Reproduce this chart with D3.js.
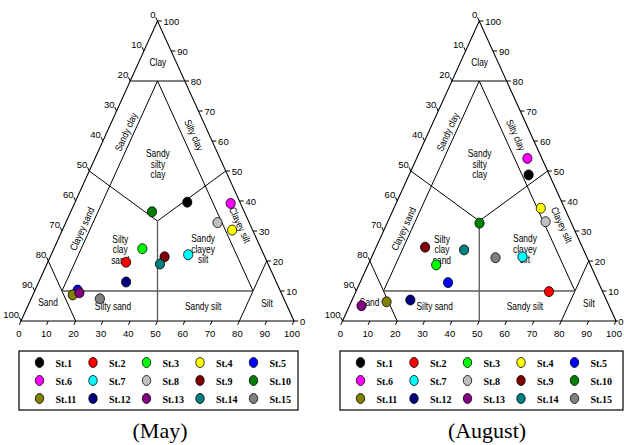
<!DOCTYPE html>
<html><head><meta charset="utf-8">
<script src="https://cdn.jsdelivr.net/npm/d3@7"></script>
<style>body{margin:0;background:#fff}svg{display:block}</style>
</head><body>
<svg id="c" width="624" height="445"></svg>
<script>
// ---- data ----
const stations = ["St.1","St.2","St.3","St.4","St.5","St.6","St.7","St.8","St.9","St.10","St.11","St.12","St.13","St.14","St.15"];
const stationColors = ["#000000","#ff0000","#00ff00","#ffff00","#0000ff","#ff00ff","#00ffff","#c0c0c0","#800000","#008000","#808000","#000080","#800080","#008080","#808080"];
// May (percent)
const maySilt = [41.1,28.7,32.4,62.2,15.6,57.2,50.2,55.6,41.9,29.8,14.6,32.0,16.7,41.4,25.2];
const mayClay = [39.6,19.6,24.1,30.3,10.3,39.2,22.1,32.8,21.4,36.4,8.7,13.0,9.4,19.0,7.4];
const maySand = [19.3,51.7,43.5,7.5,74.1,3.6,27.7,11.6,36.7,33.8,76.7,55.0,73.9,39.6,67.4];
// August (percent)
const augSilt = [43.7,70.6,24.9,53.7,32.2,40.5,55.1,57.7,17.9,33.8,12.9,21.3,4.4,32.6,45.4];
const augClay = [48.7,9.8,18.7,37.6,12.8,54.2,21.4,33.1,24.6,32.6,6.4,7.0,5.1,23.7,21.1];
const augSand = [7.6,19.6,56.4,8.7,55.0,5.3,23.5,9.2,57.5,33.6,80.7,71.7,90.5,43.7,33.5];
const tickValues = [0,10,20,30,40,50,60,70,80,90,100];
const panelTitles = ["(May)","(August)"];
// Shepard classes: label lines, position as [silt, clay], rotation sign
const regionText = [["Clay"],["Sandy clay"],["Silty clay"],["Sandy","silty","clay"],["Clayey sand"],["Clayey silt"],["Silty","clay","sand"],["Sandy","clayey","silt"],["Sand"],["Silty sand"],["Sandy silt"],["Silt"]];
const regionSilt = [7,7,32.4,24,7,64.2,24.5,54.7,6.75,31.2,64.35,87.25];
const regionClay = [86.3,63,62,52.3,30.7,32,23.7,24,6.3,5,4.7,5.7];
const regionRot = [0,-1,1,0,-1,1,0,0,0,0,0,0];
// class boundary segments [silt1,clay1,silt2,clay2]
const boundaries = [[0,80,20,80],[10,80,10,10],[10,80,80,10],[0,20,20,0],[80,0,80,20],[0,50,33.333,33.333],[50,50,33.333,33.333]];
const grayBoundaries = [[10,10,80,10],[33.333,33.333,50,0]];

// ---- layout ----
const svg = d3.select("#c");
const panels = [
  {x0:21, W:273, silt:maySilt, clay:mayClay, legX:19, legW:279, titleX:160},
  {x0:342.5, W:273.5, silt:augSilt, clay:augClay, legX:340, legW:283, titleX:487}
];
const yb = 321, H = 300;
const ang = Math.atan2(H, 136.5) * 180 / Math.PI;

panels.forEach((p, pi) => {
  const xs = d3.scaleLinear().domain([0,100]).range([p.x0, p.x0 + p.W]);
  const ys = d3.scaleLinear().domain([0,100]).range([yb, yb - H]);
  const P = (silt, clay) => [xs(silt + clay/2), ys(clay)];
  const g = svg.append("g");
  const line = d3.line();

  // outer triangle
  g.append("path").attr("d", line([P(0,0),P(100,0),P(0,100)]) + "Z")
    .attr("fill","none").attr("stroke","#000").attr("stroke-width",1.1);

  boundaries.forEach(b => g.append("path").attr("d", line([P(b[0],b[1]),P(b[2],b[3])]))
    .attr("fill","none").attr("stroke","#000").attr("stroke-width",1));
  grayBoundaries.forEach(b => g.append("path").attr("d", line([P(b[0],b[1]),P(b[2],b[3])]))
    .attr("fill","none").attr("stroke","#5a5a5a").attr("stroke-width",1.3));

  // ticks & labels
  const tk = 4.2;
  const lv = [-1.365, -3], ln = Math.hypot(lv[0], lv[1]);
  const bv = [-1.365, 3];
  const tfont = {"font-family":"Liberation Sans, Arial, sans-serif","font-size":"9.5px","fill":"#000"};
  tickValues.forEach(v => {
    const edgeCase = (v === 0 && pi === 1);
    // left axis (sand): value v at clay = 100 - v
    let [x,y] = P(0, 100 - v);
    g.append("line").attr("x1",x).attr("y1",y).attr("x2",x+lv[0]/ln*tk).attr("y2",y+lv[1]/ln*tk).attr("stroke","#000");
    let t = g.append("text").attr("x",x-2).attr("y",y-3).attr("text-anchor","end").text(v);
    Object.entries(tfont).forEach(([k,val])=>t.attr(k,val));
    // right axis (clay)
    [x,y] = P(100 - v, v);
    g.append("line").attr("x1",x).attr("y1",y).attr("x2",x+(edgeCase ? 2 : tk)).attr("y2",y).attr("stroke","#000");
    t = g.append("text").attr("x",x+(edgeCase ? 2.2 : 6)).attr("y",y+3.5).attr("text-anchor","start").text(v);
    Object.entries(tfont).forEach(([k,val])=>t.attr(k,val));
    // bottom axis (silt)
    [x,y] = P(v, 0);
    g.append("line").attr("x1",x).attr("y1",y).attr("x2",x+bv[0]/ln*tk).attr("y2",y+bv[1]/ln*tk).attr("stroke","#000");
    t = g.append("text").attr("x",x-2).attr("y",y+16).attr("text-anchor","middle").text(v);
    Object.entries(tfont).forEach(([k,val])=>t.attr(k,val));
  });

  // region labels
  regionText.forEach((lines, i) => {
    const [x,y] = P(regionSilt[i], regionClay[i]);
    const t = g.append("text")
      .attr("transform", `translate(${x},${y}) rotate(${regionRot[i]*ang}) scale(0.84,1)`)
      .attr("text-anchor","middle")
      .attr("font-family","Liberation Sans, Arial, sans-serif").attr("font-size","10px").attr("fill","#000");
    const lh = 10.3, off = -(lines.length - 1) / 2 * lh;
    lines.forEach((s, j) => t.append("tspan").attr("x",0).attr("y", off + j*lh + 3.5).text(s));
  });

  // data points
  stations.forEach((s, i) => {
    const [x,y] = P(p.silt[i], p.clay[i]);
    g.append("ellipse").attr("cx",x).attr("cy",y).attr("rx",4.6).attr("ry",5)
      .attr("fill",stationColors[i]).attr("stroke","#000").attr("stroke-width",0.8);
  });

  // legend
  const lg = g.append("g");
  lg.append("rect").attr("x",p.legX).attr("y",351).attr("width",p.legW).attr("height",59)
    .attr("fill","none").attr("stroke","#000").attr("stroke-width",1.2);
  const colX = d3.scaleLinear().domain([0,4]).range([p.legX + 20.5, p.legX + 234.5]);
  const rowY = d3.scaleLinear().domain([0,2]).range([362.5, 398.5]);
  stations.forEach((s, i) => {
    const c = i % 5, r = Math.floor(i / 5);
    const cx = colX(c), cy = rowY(r);
    lg.append("ellipse").attr("cx",cx).attr("cy",cy).attr("rx",4.2).attr("ry",5)
      .attr("fill",stationColors[i]).attr("stroke","#000").attr("stroke-width",0.8);
    lg.append("text").attr("x",cx+16).attr("y",cy+4).text(s)
      .attr("font-family","Liberation Serif, Times New Roman, serif").attr("font-weight","bold")
      .attr("font-size","10px").attr("fill","#000");
  });

  // title
  g.append("text").attr("x",p.titleX).attr("y",438).attr("text-anchor","middle").text(panelTitles[pi])
    .attr("font-family","Liberation Serif, Times New Roman, serif").attr("font-size","22px").attr("fill","#000");
});
</script>
</body></html>
